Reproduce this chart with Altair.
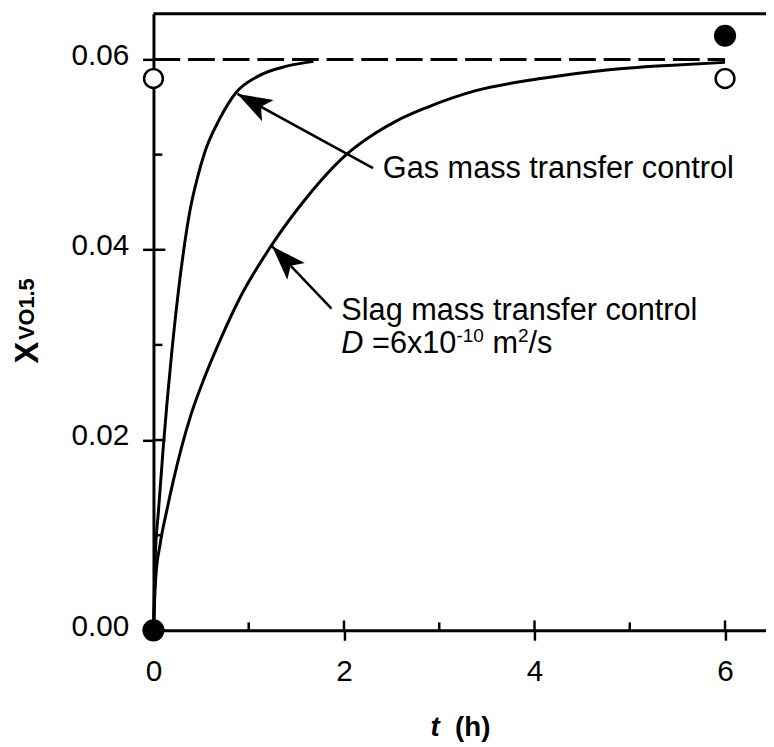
import math
import altair as alt
import pandas as pd

# ---------------- data ----------------
gas_t = [0, 0.017, 0.052, 0.104, 0.19, 0.26, 0.311, 0.381, 0.46, 0.537, 0.692, 0.865, 1.09, 1.40, 1.68]
gas_x = [0, 0.0073, 0.0125, 0.0194, 0.029, 0.0355, 0.0395, 0.0440, 0.0475, 0.0502, 0.0537, 0.0565, 0.0582, 0.0593, 0.0598]

slag_t = [0, 0.024, 0.069, 0.138, 0.208, 0.294, 0.398, 0.537, 0.70, 0.90, 1.228, 1.609, 2.024, 2.336,
          2.543, 2.855, 3.374, 4.066, 4.758, 5.45, 6.0]
slag_x = [0, 0.0055, 0.0090, 0.0125, 0.0157, 0.0192, 0.0228, 0.0266, 0.0305, 0.0348, 0.0403, 0.0455, 0.0500,
          0.0523, 0.0535, 0.0549, 0.0567, 0.0580, 0.0589, 0.0594, 0.0597]

eq_t = [0, 6]
eq_x = [0.06, 0.06]

open_t = [0, 6]
open_x = [0.058, 0.058]
filled_t = [0, 6]
filled_x = [0.0, 0.0625]

x_major = [0, 2, 4, 6]
x_minor = [1, 3, 5]
y_major = [0.0, 0.02, 0.04, 0.06]
y_minor = [0.01, 0.03, 0.05]

# arrows: tail -> tip (data coordinates)
arrow_tail_t = [2.305, 1.869]
arrow_tail_x = [0.04858, 0.03381]
arrow_tip_t = [0.882, 1.246]
arrow_tip_x = [0.05638, 0.04036]

label_gas = "Gas mass transfer control"
label_slag = "Slag mass transfer control"

# ---------------- layout ----------------
W, H = 619, 623
XMAX, YMAX = 6.43, 0.0648
DX = XMAX / W   # data units per pixel (x)
DY = YMAX / H   # data units per pixel (y)
FONT = "Liberation Sans"
F = 31          # annotation font size

xs = alt.Scale(domain=[0, XMAX], nice=False, zero=False)
ys = alt.Scale(domain=[0, YMAX], nice=False, zero=False)

xaxis = alt.Axis(values=x_major, format="d", title=None, grid=False, tickSize=10, tickWidth=2.5,
                 tickColor="black", domainWidth=3, domainColor="black", labelFont=FONT,
                 labelFontSize=30, labelColor="black", labelPadding=17, labelFlush=False,
                 labelOverlap=False)
yaxis = alt.Axis(values=y_major, format=".2f", title=None, grid=False, tickSize=11, tickWidth=2.5,
                 tickColor="black", domainWidth=3, domainColor="black", labelFont=FONT,
                 labelFontSize=30, labelColor="black", labelPadding=14, labelOffset=-4,
                 labelOverlap=False)


def X(f="t"):
    return alt.X(f"{f}:Q", scale=xs, axis=xaxis)


def Y(f="v"):
    return alt.Y(f"{f}:Q", scale=ys, axis=yaxis)


layers = []

# curves
curves = pd.DataFrame(
    {"t": gas_t + slag_t, "v": gas_x + slag_x,
     "s": ["gas"] * len(gas_t) + ["slag"] * len(slag_t)})
layers.append(alt.Chart(curves).mark_line(color="black", strokeWidth=3, interpolate="monotone")
              .encode(x=X(), y=Y(), detail="s:N"))

# dashed equilibrium line
eq = pd.DataFrame({"t": eq_t, "v": eq_x})
layers.append(alt.Chart(eq).mark_line(color="black", strokeWidth=3, strokeDash=[27, 8])
              .encode(x=X(), y=Y()))

# inner tick marks (ticks crossing the axes)
xt = pd.DataFrame({"t": x_major + x_minor,
                   "v": [0.0] * 7,
                   "v2": [10 * DY] * len(x_major) + [8 * DY] * len(x_minor)})
layers.append(alt.Chart(xt).mark_rule(color="black", strokeWidth=2.5)
              .encode(x=X(), y=Y(), y2="v2:Q"))
yt = pd.DataFrame({"v": y_major + y_minor,
                   "t": [0.0] * 7,
                   "t2": [12 * DX] * len(y_major) + [9 * DX] * len(y_minor)})
layers.append(alt.Chart(yt).mark_rule(color="black", strokeWidth=2.5)
              .encode(y=Y(), x=X(), x2="t2:Q"))

# top frame line
top = pd.DataFrame({"t": [0.0], "t2": [XMAX], "v": [YMAX]})
layers.append(alt.Chart(top).mark_rule(color="black", strokeWidth=3)
              .encode(x=X(), x2="t2:Q", y=Y()))

# arrows
angles = []
for a, b, c, d in zip(arrow_tail_t, arrow_tail_x, arrow_tip_t, arrow_tip_x):
    dxp = (c - a) / DX
    dyp = -(d - b) / DY
    angles.append(math.degrees(math.atan2(dxp, -dyp)) % 360)
arr = pd.DataFrame({"t": arrow_tail_t, "v": arrow_tail_x, "t2": arrow_tip_t, "v2": arrow_tip_x})
layers.append(alt.Chart(arr).mark_rule(color="black", strokeWidth=2.5)
              .encode(x=X(), y=Y(), x2="t2:Q", y2="v2:Q"))
heads = pd.DataFrame({"t": arrow_tip_t, "v": arrow_tip_x, "a": angles})
layers.append(alt.Chart(heads).mark_point(shape="M0,0L0.7,2L0,1.55L-0.7,2Z", filled=True,
                                          color="black", opacity=1, size=1225, strokeWidth=0)
              .encode(x=X(), y=Y(), angle=alt.Angle("a:Q", scale=None)))

# data points
op = pd.DataFrame({"t": open_t, "v": open_x})
layers.append(alt.Chart(op).mark_point(shape="circle", filled=True, fill="white", stroke="black",
                                       strokeWidth=2.5, size=360, opacity=1)
              .encode(x=X(), y=Y()))
fp = pd.DataFrame({"t": filled_t, "v": filled_x})
layers.append(alt.Chart(fp).mark_point(shape="circle", filled=True, color="black", size=500, opacity=1)
              .encode(x=X(), y=Y()))


def text(t, v, s, size=F, **kw):
    d = pd.DataFrame({"t": [t], "v": [v], "s": [s]})
    props = dict(font=FONT, fontSize=size, color="black", align="left", baseline="alphabetic")
    props.update(kw)
    return alt.Chart(d).mark_text(**props).encode(x=X(), y=Y(), text="s:N")


# annotation labels
layers.append(text(2.408, 0.04754, label_gas))
layers.append(text(1.972, 0.03266, label_slag))

# D = 6x10^-10 m^2/s  (pieces laid out with Arial-metric widths)
t0, v0 = 1.972, 0.02913
sup = 0.62 * F
rise = 0.38 * F * DY
o_eq = 1.0 * F
o_sup1 = o_eq + 2.752 * F
o_m = o_sup1 + 1.445 * sup + 0.278 * F
o_sup2 = o_m + 0.833 * F
o_s = o_sup2 + 0.556 * sup
layers.append(text(t0, v0, "D", fontStyle="italic"))
layers.append(text(t0 + o_eq * DX, v0, "=6x10"))
layers.append(text(t0 + o_sup1 * DX, v0 + rise, "-10", size=sup))
layers.append(text(t0 + o_m * DX, v0, "m"))
layers.append(text(t0 + o_sup2 * DX, v0 + rise, "2", size=sup))
layers.append(text(t0 + o_s * DX, v0, "/s"))

# axis titles
layers.append(text(-1.32, 0.02918, "X", size=33, fontWeight="bold", angle=270, align="center",
                   baseline="middle"))
layers.append(text(-1.33, 0.03376, "VO1.5", size=22, fontWeight="bold", angle=270, align="center",
                   baseline="middle"))
layers.append(text(2.907, -0.01113, "t", size=28, fontWeight="bold", fontStyle="italic"))
layers.append(text(3.166, -0.01113, "(h)", size=28, fontWeight="bold"))

chart = alt.layer(*layers).properties(
    width=W, height=H,
    autosize=alt.AutoSizeParams(type="none"),
    padding={"left": 147, "top": 2, "right": 0, "bottom": 112},
).configure_view(stroke=None).configure(background="white")

chart.save("out.html", embed_options={"renderer": "svg", "actions": False})
